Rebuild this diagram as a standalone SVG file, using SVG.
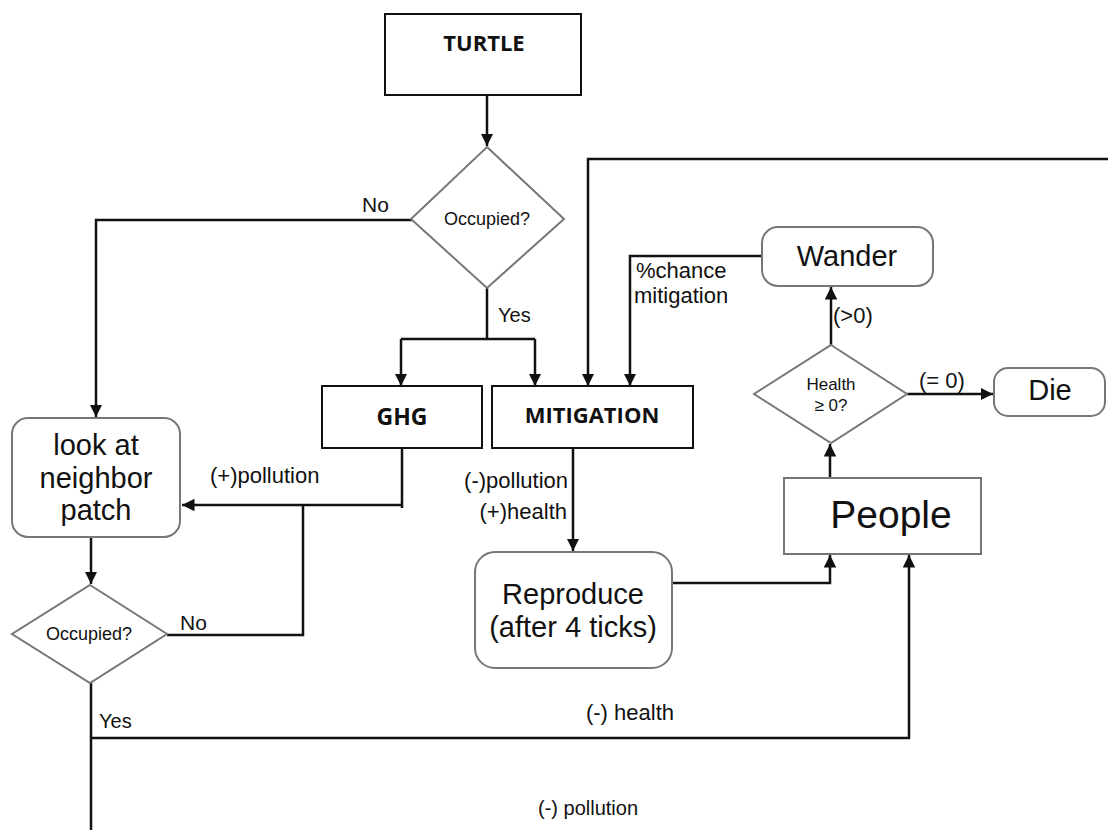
<svg xmlns="http://www.w3.org/2000/svg" width="1108" height="830" viewBox="0 0 1108 830">
<style>
.box{fill:#fff;stroke:#111;stroke-width:2}
.gbox{fill:#fff;stroke:#777;stroke-width:2}
.dia{fill:#fff;stroke:#777;stroke-width:2}
.bold{font-family:"Open Sans","Liberation Sans",sans-serif;font-weight:bold;fill:#111;text-anchor:middle}
.t{font-family:"Liberation Sans",Arial,sans-serif;fill:#111}
.c{text-anchor:middle}
.conn path{fill:none;stroke:#111;stroke-width:2.5}
</style>
<defs>
<marker id="ah" viewBox="0 0 10 10" refX="10" refY="5" markerWidth="5" markerHeight="5" markerUnits="strokeWidth" orient="auto">
<path d="M0,0 L10,5 L0,10 Z" fill="#111"/>
</marker>
</defs>
<rect width="1108" height="830" fill="#fff"/>

<g id="conns" class="conn">
<path d="M487,95 V146" marker-end="url(#ah)"/>
<path d="M412,220 H96 V417" marker-end="url(#ah)"/>
<path d="M487,288 V339"/>
<path d="M401,339 H535"/>
<path d="M401,339 V386" marker-end="url(#ah)"/>
<path d="M535,339 V386" marker-end="url(#ah)"/>
<path d="M1108,159 H588 V386" marker-end="url(#ah)"/>
<path d="M762,256 H630 V386" marker-end="url(#ah)"/>
<path d="M402,448 V508"/>
<path d="M402,505 H182" marker-end="url(#ah)"/>
<path d="M167,635 H303 V505"/>
<path d="M91,537 V584" marker-end="url(#ah)"/>
<path d="M91,683 V830"/>
<path d="M91,738 H909 V555" marker-end="url(#ah)"/>
<path d="M573,448 V551" marker-end="url(#ah)"/>
<path d="M672,583 H830 V555" marker-end="url(#ah)"/>
<path d="M830,478 V444" marker-end="url(#ah)"/>
<path d="M831,345 V287" marker-end="url(#ah)"/>
<path d="M907,394 H993" marker-end="url(#ah)"/>
</g>

<g id="turtle"><rect class="box" x="385" y="14" width="196" height="81"/><text class="bold" x="484" y="51" font-size="22">TURTLE</text></g>
<g id="occupied1"><polygon class="dia" points="487,147 564,219 487,288 411,219"/><text class="t c" x="487" y="225" font-size="18" fill="#333">Occupied?</text></g>
<g id="ghg"><rect class="box" x="322" y="386" width="160" height="62"/><text class="bold" x="402" y="425" font-size="23">GHG</text></g>
<g id="mitigation"><rect class="box" x="492" y="386" width="201" height="62"/><text class="bold" x="592" y="423" font-size="22">MITIGATION</text></g>
<g id="neighbor"><rect class="gbox" x="12" y="418" width="168" height="119" rx="16"/>
<text class="t c" font-size="29"><tspan x="96" y="455">look at</tspan><tspan x="96" y="488">neighbor</tspan><tspan x="96" y="520">patch</tspan></text></g>
<g id="occupied2"><polygon class="dia" points="90,585 167,634 90,683 12,634"/><text class="t c" x="89" y="640" font-size="18" fill="#333">Occupied?</text></g>
<g id="reproduce"><rect class="gbox" x="475" y="552" width="197" height="116" rx="20"/>
<text class="t c" font-size="29"><tspan x="573" y="604">Reproduce</tspan><tspan x="573" y="637">(after 4 ticks)</tspan></text></g>
<g id="people"><rect class="gbox" x="784" y="478" width="197" height="76"/><text class="t c" x="891" y="528" font-size="39">People</text></g>
<g id="health"><polygon class="dia" points="831,345 907,394 831,443 754,394"/>
<text class="t c" font-size="17" fill="#333"><tspan x="831" y="390">Health</tspan><tspan x="831" y="411">≥ 0?</tspan></text></g>
<g id="wander"><rect class="gbox" x="762" y="227" width="171" height="59" rx="16"/><text class="t c" x="847" y="266" font-size="29">Wander</text></g>
<g id="die"><rect class="gbox" x="994" y="368" width="111" height="48" rx="14"/><text class="t c" x="1050" y="400" font-size="29">Die</text></g>

<g id="labels" class="t" font-size="22">
<text x="362" y="212" font-size="21">No</text>
<text x="498" y="322" font-size="20">Yes</text>
<text x="210" y="483">(+)pollution</text>
<text x="180" y="630" font-size="21">No</text>
<text x="99" y="728" font-size="20">Yes</text>
<text x="568" y="488" text-anchor="end">(-)pollution</text>
<text x="567" y="519" text-anchor="end">(+)health</text>
<text x="636" y="278">%chance</text>
<text x="634" y="303">mitigation</text>
<text x="833" y="323">(&gt;0)</text>
<text x="919" y="388">(= 0)</text>
<text x="630" y="720" text-anchor="middle">(-) health</text>
<text x="588" y="815" text-anchor="middle" font-size="20">(-) pollution</text>
</g>
</svg>
